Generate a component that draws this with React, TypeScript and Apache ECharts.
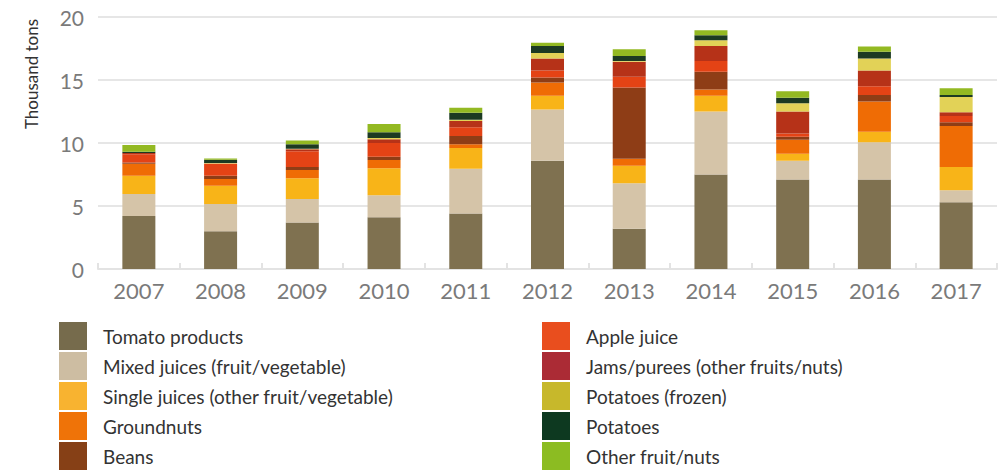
import React, { useEffect, useRef } from "react";
import * as echarts from "echarts";

const years = ["2007", "2008", "2009", "2010", "2011", "2012", "2013", "2014", "2015", "2016", "2017"];
const yTicks = [0, 5, 10, 15, 20];

const tomato = [4.2, 3.0, 3.7, 4.1, 4.4, 8.6, 3.2, 7.5, 7.1, 7.1, 5.3];
const mixed = [1.75, 2.15, 1.85, 1.75, 3.55, 4.05, 3.6, 5.0, 1.5, 2.95, 0.95];
const single = [1.45, 1.45, 1.65, 2.15, 1.65, 1.1, 1.4, 1.25, 0.55, 0.85, 1.85];
const groundnuts = [0.95, 0.55, 0.65, 0.65, 0.3, 1.05, 0.55, 0.5, 1.1, 2.4, 3.25];
const beans = [0.1, 0.25, 0.25, 0.25, 0.65, 0.4, 5.65, 1.4, 0.25, 0.5, 0.3];
const apple = [0.65, 0.95, 1.25, 1.1, 0.7, 0.55, 0.85, 0.85, 0.25, 0.7, 0.5];
const jams = [0.1, 0.02, 0.15, 0.3, 0.5, 0.95, 1.2, 1.2, 1.75, 1.25, 0.3];
const frozen = [0, 0.05, 0.05, 0.1, 0.1, 0.45, 0.05, 0.45, 0.65, 0.95, 1.2];
const potatoes = [0.1, 0.25, 0.35, 0.45, 0.55, 0.55, 0.4, 0.4, 0.45, 0.55, 0.15];
const other = [0.55, 0.1, 0.3, 0.65, 0.4, 0.25, 0.55, 0.4, 0.5, 0.4, 0.55];

const seriesDefs = [
  { name: "Tomato products", data: tomato, color: "#7f7150", legendColor: "#766b4c" },
  { name: "Mixed juices (fruit/vegetable)", data: mixed, color: "#d5c4a8", legendColor: "#cdbda2" },
  { name: "Single juices (other fruit/vegetable)", data: single, color: "#f8b418", legendColor: "#f8b330" },
  { name: "Groundnuts", data: groundnuts, color: "#ef6c05", legendColor: "#ef7308" },
  { name: "Beans", data: beans, color: "#8e3d16", legendColor: "#864016" },
  { name: "Apple juice", data: apple, color: "#e44315", legendColor: "#e94e1e" },
  { name: "Jams/purees (other fruits/nuts)", data: jams, color: "#b63218", legendColor: "#ab2b35" },
  { name: "Potatoes (frozen)", data: frozen, color: "#e2d257", legendColor: "#c7b82b" },
  { name: "Potatoes", data: potatoes, color: "#1c3a22", legendColor: "#0d3920" },
  { name: "Other fruit/nuts", data: other, color: "#93b922", legendColor: "#8cbc22" },
];

const FONT = "Lato";

export default function App() {
  const ref = useRef<HTMLDivElement>(null);

  useEffect(() => {
    if (!ref.current) return;
    const chart = echarts.init(ref.current, null, { renderer: "svg" });

    const legendCommon = {
      orient: "vertical" as const,
      top: 322,
      height: 149,
      padding: 0,
      itemWidth: 28,
      itemHeight: 28,
      itemGap: 2,
      icon: "rect",
      selectedMode: false,
      textStyle: { fontFamily: FONT, fontSize: 19, color: "#333333", padding: [0, 0, 0, 11] },
    };

    chart.setOption({
      animation: false,
      grid: { left: 98, right: 6, top: 17, bottom: 202, containLabel: false },
      legend: [
        {
          ...legendCommon,
          left: 59,
          data: seriesDefs.slice(0, 5).map((s) => ({ name: s.name, itemStyle: { color: s.legendColor } })),
        },
        {
          ...legendCommon,
          left: 542,
          data: seriesDefs.slice(5).map((s) => ({ name: s.name, itemStyle: { color: s.legendColor } })),
        },
      ],
      xAxis: {
        type: "category",
        data: years,
        axisLine: { show: true, lineStyle: { color: "#e3e3e3", width: 2 } },
        axisTick: { show: true, inside: true, length: 6, lineStyle: { color: "#e3e3e3", width: 2 } },
        axisLabel: { fontFamily: FONT, fontSize: 22, color: "#7a7a7a", margin: 10 },
      },
      yAxis: {
        type: "value",
        min: yTicks[0],
        max: yTicks[yTicks.length - 1],
        interval: 5,
        axisLine: { show: false },
        axisTick: { show: false },
        splitLine: { show: true, lineStyle: { color: "#e6e6e6", width: 2 } },
        axisLabel: { fontFamily: FONT, fontSize: 21, color: "#7a7a7a", margin: 14 },
      },
      graphic: [
        {
          type: "text",
          x: 31,
          y: 74,
          rotation: Math.PI / 2,
          style: {
            text: "Thousand tons",
            fontFamily: FONT,
            fontSize: 17,
            fill: "#333333",
            textAlign: "center",
            textVerticalAlign: "middle",
          },
        },
      ],
      series: seriesDefs.map((s) => ({
        name: s.name,
        type: "bar",
        stack: "total",
        barWidth: 33,
        data: s.data,
        itemStyle: { color: s.color },
      })),
    });

    return () => chart.dispose();
  }, []);

  return <div ref={ref} style={{ width: 1003, height: 471, position: "absolute", left: 0, top: 0 }} />;
}
